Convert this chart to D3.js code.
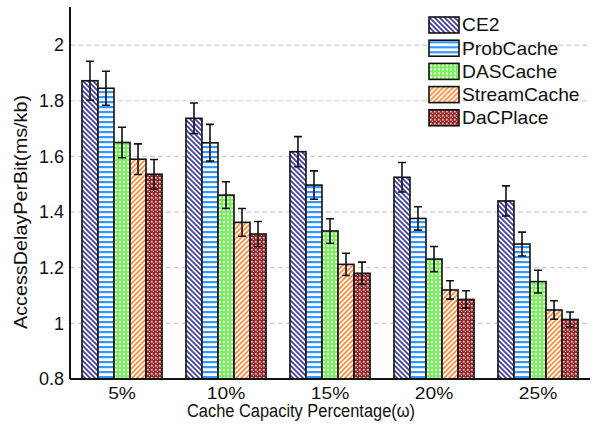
<!DOCTYPE html>
<html lang="en">
<head>
    <meta charset="UTF-8">
    <title>Access delay per bit</title>
    <script src="https://d3js.org/d3.v7.js"></script>
    <style>
        body { margin: 0; background: #fff; }
        text { font-family: Arial, "Liberation Sans", sans-serif; }
    </style>
</head>
<body>
<svg></svg>
<script>
    // categories and series
    let capacities = ["5%", "10%", "15%", "20%", "25%"];
    let schemes = ["CE2", "ProbCache", "DASCache", "StreamCache", "DaCPlace"];

    // mean values per scheme, in capacity order
    let ce2 = [1.872, 1.737, 1.617, 1.525, 1.440];
    let probCache = [1.845, 1.649, 1.497, 1.377, 1.285];
    let dasCache = [1.650, 1.461, 1.332, 1.231, 1.150];
    let streamCache = [1.590, 1.363, 1.212, 1.120, 1.048];
    let dacPlace = [1.536, 1.321, 1.180, 1.086, 1.014];

    // half width of the error bars
    let ce2Err = [0.070, 0.055, 0.054, 0.053, 0.054];
    let probCacheErr = [0.061, 0.066, 0.051, 0.042, 0.043];
    let dasCacheErr = [0.055, 0.048, 0.044, 0.045, 0.041];
    let streamCacheErr = [0.055, 0.050, 0.040, 0.033, 0.033];
    let dacPlaceErr = [0.053, 0.045, 0.040, 0.031, 0.027];

    let yTicks = [0.8, 1, 1.2, 1.4, 1.6, 1.8, 2];

    let values = [ce2, probCache, dasCache, streamCache, dacPlace];
    let errors = [ce2Err, probCacheErr, dasCacheErr, streamCacheErr, dacPlaceErr];

    let width = 596;
    let height = 427;
    let margin = {top: 7, right: 6, bottom: 48, left: 70};

    let svg = d3.select("svg")
        .attr("width", width)
        .attr("height", height);

    // hatch patterns, one per scheme
    let defs = svg.append("defs");

    function hatch(id, size, draw) {
        let p = defs.append("pattern")
            .attr("id", id)
            .attr("patternUnits", "userSpaceOnUse")
            .attr("width", size)
            .attr("height", size);
        p.append("rect").attr("width", size).attr("height", size).attr("fill", "#fff");
        draw(p);
    }

    hatch("p-ce2", 5, p => {
        p.append("path").attr("d", "M-1,-1 L6,6 M-1,4 L1,6 M4,-1 L6,1")
            .attr("stroke", "#3c3ca6").attr("stroke-width", 1.7);
    });
    hatch("p-prob", 5, p => {
        p.append("rect").attr("y", 1).attr("width", 5).attr("height", 2.2).attr("fill", "#3399ff");
    });
    hatch("p-das", 4, p => {
        p.append("rect").attr("width", 4).attr("height", 4).attr("fill", "#7af05c");
        p.append("rect").attr("x", 1).attr("y", 1).attr("width", 2).attr("height", 2).attr("fill", "#f2fff0");
    });
    hatch("p-stream", 5, p => {
        p.append("path").attr("d", "M-1,6 L6,-1 M-1,1 L1,-1 M4,6 L6,4")
            .attr("stroke", "#ff8a3a").attr("stroke-width", 1.7);
    });
    hatch("p-dac", 4, p => {
        p.append("rect").attr("width", 4).attr("height", 4).attr("fill", "#9a2a2a");
        p.append("rect").attr("x", 1).attr("y", 1).attr("width", 1.6).attr("height", 1.6).attr("fill", "#f4dada");
        p.append("rect").attr("x", 3).attr("y", 3).attr("width", 1.6).attr("height", 1.6).attr("fill", "#f4dada");
    });

    let fills = d3.scaleOrdinal()
        .domain(schemes)
        .range(["url(#p-ce2)", "url(#p-prob)", "url(#p-das)", "url(#p-stream)", "url(#p-dac)"]);

    let x0 = d3.scaleBand()
        .domain(capacities)
        .range([margin.left, width - margin.right])
        .paddingInner(0.23)
        .paddingOuter(0.115);

    let x1 = d3.scaleBand()
        .domain(schemes)
        .range([0, x0.bandwidth()]);

    let y = d3.scaleLinear()
        .domain([0.8, 2.137])
        .range([height - margin.bottom, margin.top]);

    // dashed grid
    svg.append("g")
        .selectAll("line")
        .data(yTicks.slice(1))
        .enter()
        .append("line")
        .attr("x1", margin.left)
        .attr("x2", width - margin.right)
        .attr("y1", d => y(d))
        .attr("y2", d => y(d))
        .attr("stroke", "#cccccc")
        .attr("stroke-width", 1.2)
        .attr("stroke-dasharray", "5,3");

    // flatten into one record per bar
    let bars = [];
    capacities.forEach((c, i) => {
        schemes.forEach((s, j) => {
            bars.push({cap: c, scheme: s, value: values[j][i], err: errors[j][i]});
        });
    });

    let groups = svg.append("g")
        .selectAll("g")
        .data(bars)
        .enter()
        .append("g")
        .attr("transform", d => "translate(" + (x0(d.cap) + x1(d.scheme)) + ",0)");

    groups.append("rect")
        .attr("y", d => y(d.value))
        .attr("width", x1.bandwidth())
        .attr("height", d => y(0.8) - y(d.value))
        .attr("fill", d => fills(d.scheme))
        .attr("stroke", "#111")
        .attr("stroke-width", 1.6);

    // error bars
    let bw = x1.bandwidth();
    groups.append("path")
        .attr("d", d => {
            let cx = bw / 2, t = y(d.value + d.err), b = y(d.value - d.err);
            return "M" + cx + "," + t + "V" + b +
                "M" + (cx - 4) + "," + t + "H" + (cx + 4) +
                "M" + (cx - 4) + "," + b + "H" + (cx + 4);
        })
        .attr("fill", "none")
        .attr("stroke", "#111")
        .attr("stroke-width", 1.6);

    // axes
    let yAxis = svg.append("g")
        .attr("transform", "translate(" + margin.left + ",0)")
        .call(d3.axisLeft(y).tickValues(yTicks).tickSize(0).tickPadding(6).tickFormat(d3.format("~g")));
    yAxis.select(".domain").remove();
    yAxis.selectAll("text").style("font-size", "18px").attr("fill", "#111");

    let xAxis = svg.append("g")
        .attr("transform", "translate(0," + y(0.8) + ")")
        .call(d3.axisBottom(x0).tickSize(0).tickPadding(0));
    xAxis.select(".domain").remove();
    xAxis.selectAll("text")
        .attr("dy", null)
        .attr("y", 20)
        .attr("transform", "scale(1.13,1)")
        .style("font-size", "17px")
        .attr("fill", "#111");

    svg.append("line")
        .attr("x1", margin.left).attr("x2", margin.left)
        .attr("y1", margin.top).attr("y2", y(0.8))
        .attr("stroke", "#111").attr("stroke-width", 2);
    svg.append("line")
        .attr("x1", margin.left).attr("x2", width - margin.right)
        .attr("y1", y(0.8)).attr("y2", y(0.8))
        .attr("stroke", "#111").attr("stroke-width", 2);

    // axis titles
    svg.append("text")
        .attr("x", 301)
        .attr("y", 417)
        .attr("text-anchor", "middle")
        .attr("textLength", 228)
        .attr("lengthAdjust", "spacingAndGlyphs")
        .style("font-size", "18px")
        .attr("fill", "#111")
        .text("Cache Capacity Percentage(\u03c9)");

    svg.append("text")
        .attr("transform", "translate(27,212) rotate(-90)")
        .attr("text-anchor", "middle")
        .attr("textLength", 234)
        .attr("lengthAdjust", "spacingAndGlyphs")
        .style("font-size", "17.5px")
        .attr("fill", "#111")
        .text("AccessDelayPerBit(ms/kb)");

    // legend
    let legend = svg.append("g")
        .attr("transform", "translate(429,17)")
        .selectAll("g")
        .data(schemes)
        .enter()
        .append("g")
        .attr("transform", (d, i) => "translate(0," + i * 23.2 + ")");

    legend.append("rect")
        .attr("width", 30)
        .attr("height", 16)
        .attr("fill", d => fills(d))
        .attr("stroke", "#111")
        .attr("stroke-width", 1.6);

    legend.append("text")
        .attr("transform", "translate(33,8) scale(1.1,1)")
        .attr("dy", "0.36em")
        .style("font-size", "17.5px")
        .attr("fill", "#111")
        .text(d => d);
</script>
</body>
</html>
